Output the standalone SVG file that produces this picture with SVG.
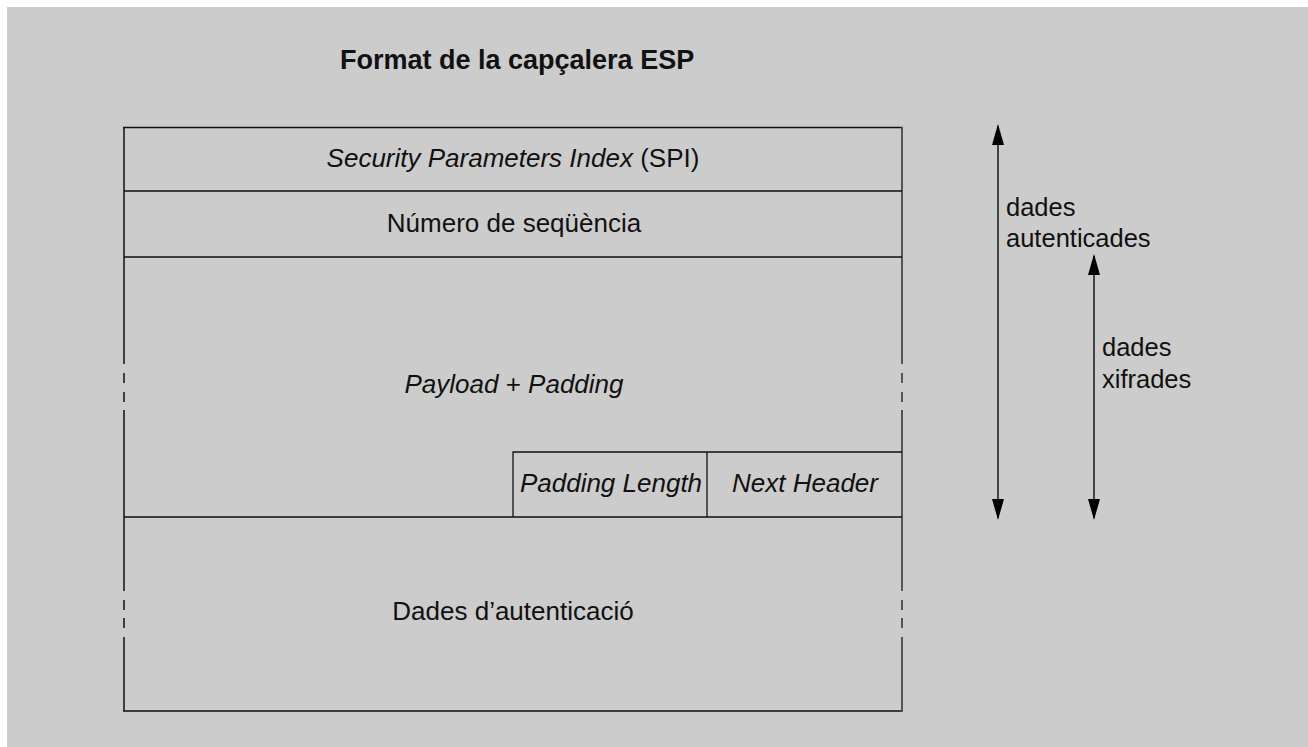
<svg xmlns="http://www.w3.org/2000/svg" width="1308" height="747" viewBox="0 0 1308 747">
<style>
text{font-family:"Liberation Sans",Arial,Helvetica,sans-serif;fill:#111;}
.t{font-size:26px;text-anchor:middle;}
.s{font-size:25.5px;}
.i{font-style:italic;}
.b{stroke:#111;stroke-width:1.5;fill:none;}
.r{stroke:#555;stroke-width:2;fill:none;}
.ln{stroke:#111;stroke-width:1.3;fill:none;}
.ar{stroke:#444;stroke-width:2;fill:none;marker-start:url(#ah);marker-end:url(#ah);}
</style>
<defs>
<marker id="ah" markerUnits="userSpaceOnUse" markerWidth="21" markerHeight="12" refX="19" refY="6" orient="auto-start-reverse">
<path d="M0,0 L21,6 L0,12 z" fill="#000"/>
</marker>
</defs>
<rect x="7" y="7" width="1301" height="740" fill="#cccccc"/>
<text x="340" y="69" style="font-size:27px;font-weight:bold">Format de la capçalera ESP</text>
<g id="frame">
<line class="b" x1="123" y1="127.5" x2="903" y2="127.5"/>
<line class="b" x1="123" y1="711" x2="903" y2="711"/>
<path class="b" d="M124,127 V364 M124,373 V383 M124,392 V402 M124,410 V591 M124,600 V610 M124,618 V628 M124,637 V711"/>
<path class="r" d="M902,127 V364 M902,373 V383 M902,392 V402 M902,410 V591 M902,600 V610 M902,618 V628 M902,637 V712"/>
</g>
<g id="spi">
<line class="ln" x1="124" y1="191" x2="902" y2="191"/>
<text class="t" x="513" y="167"><tspan class="i">Security Parameters Index</tspan> (SPI)</text>
</g>
<g id="seq">
<line class="ln" x1="124" y1="257" x2="902" y2="257"/>
<text class="t" x="514" y="232">Número de seqüència</text>
</g>
<g id="payload">
<line class="ln" x1="124" y1="517" x2="902" y2="517"/>
<text class="t" x="514" y="393"><tspan class="i">Payload</tspan> + <tspan class="i">Padding</tspan></text>
</g>
<g id="padlen">
<path class="ln" d="M513,517 V452 H902 M707,452 V517"/>
<text class="t i" x="611" y="492">Padding Length</text>
</g>
<g id="nexthdr">
<text class="t i" x="805" y="492">Next Header</text>
</g>
<g id="auth">
<text class="t" x="513" y="620">Dades d’autenticació</text>
</g>
<g id="connectors">
<line class="ar" x1="998" y1="126" x2="998" y2="518"/>
<line class="ar" x1="1094" y1="256" x2="1094" y2="518"/>
</g>
<g id="lbl-auth">
<text class="s" x="1006" y="216">dades</text>
<text class="s" x="1006" y="247">autenticades</text>
</g>
<g id="lbl-enc">
<text class="s" x="1102" y="356">dades</text>
<text class="s" x="1102" y="388">xifrades</text>
</g>
</svg>
